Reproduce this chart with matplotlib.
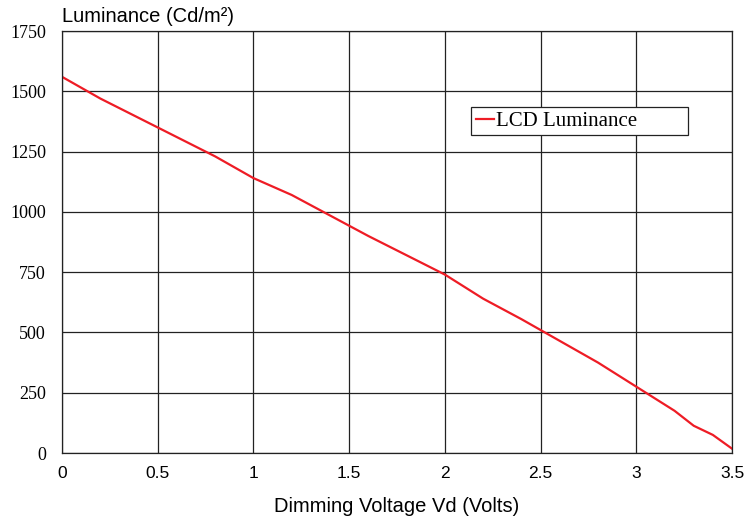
import matplotlib
matplotlib.use('Agg')
import matplotlib.pyplot as plt
from matplotlib.patches import Rectangle

# dimming voltage (V) vs luminance (cd/m2)
volts = [0, 0.2, 0.4, 0.6, 0.8, 1.0, 1.2, 1.4, 1.6, 1.8, 2.0, 2.2, 2.4, 2.6, 2.8, 3.0, 3.2, 3.3, 3.4, 3.5]
luminance = [1560, 1470, 1390, 1310, 1230, 1140, 1070, 985, 900, 820, 740, 640, 555, 465, 375, 275, 175, 113, 75, 18]

x_ticks = [0, 0.5, 1, 1.5, 2, 2.5, 3, 3.5]
x_labels = ['0', '0.5', '1', '1.5', '2', '2.5', '3', '3.5']
y_ticks = [0, 250, 500, 750, 1000, 1250, 1500, 1750]

W, H = 756, 516
fig = plt.figure(figsize=(W/100, H/100), dpi=100)
ax = fig.add_axes([62/W, 1 - 453/H, 670/W, 422/H])

ax.plot(volts, luminance, color='#ee1c25', linewidth=1.6, label='LCD Luminance')

ax.set_xlim(0, 3.5)
ax.set_ylim(0, 1750)
ax.set_xticks(x_ticks)
ax.set_xticklabels(x_labels, fontsize=12.5, family='Liberation Sans')
ax.set_yticks(y_ticks)
ax.set_yticklabels([str(v) for v in y_ticks], fontsize=13, family='Liberation Serif')
ax.tick_params(axis='x', length=0, pad=9)
ax.tick_params(axis='y', length=0, pad=11.5)
ax.grid(True, color='#222222', linewidth=0.9)
for s in ax.spines.values():
    s.set_color('#222222')
    s.set_linewidth(0.9)

fig.text(397/W, 1 - 512/H, 'Dimming Voltage Vd (Volts)', fontsize=14.5, family='Liberation Sans',
         ha='center', va='baseline')
fig.text(62/W, 1 - 22/H, 'Luminance (Cd/m²)', fontsize=14.5, family='Liberation Sans',
         ha='left', va='baseline')

# legend: framed box wider than its content
leg = ax.legend(loc='center left', bbox_to_anchor=((476 - 62)/670, (453 - 121)/422),
                prop={'family': 'Liberation Serif', 'size': 15}, frameon=False,
                handlelength=0.85, handletextpad=0.1, borderpad=0, borderaxespad=0)
leg.set_zorder(6)
box = Rectangle((471/W, 1 - 135/H), 217/W, 28/H, transform=fig.transFigure,
                facecolor='white', edgecolor='#222222', linewidth=0.9, zorder=5, clip_on=False)
ax.add_artist(box)

plt.savefig('out.png', dpi=100)
